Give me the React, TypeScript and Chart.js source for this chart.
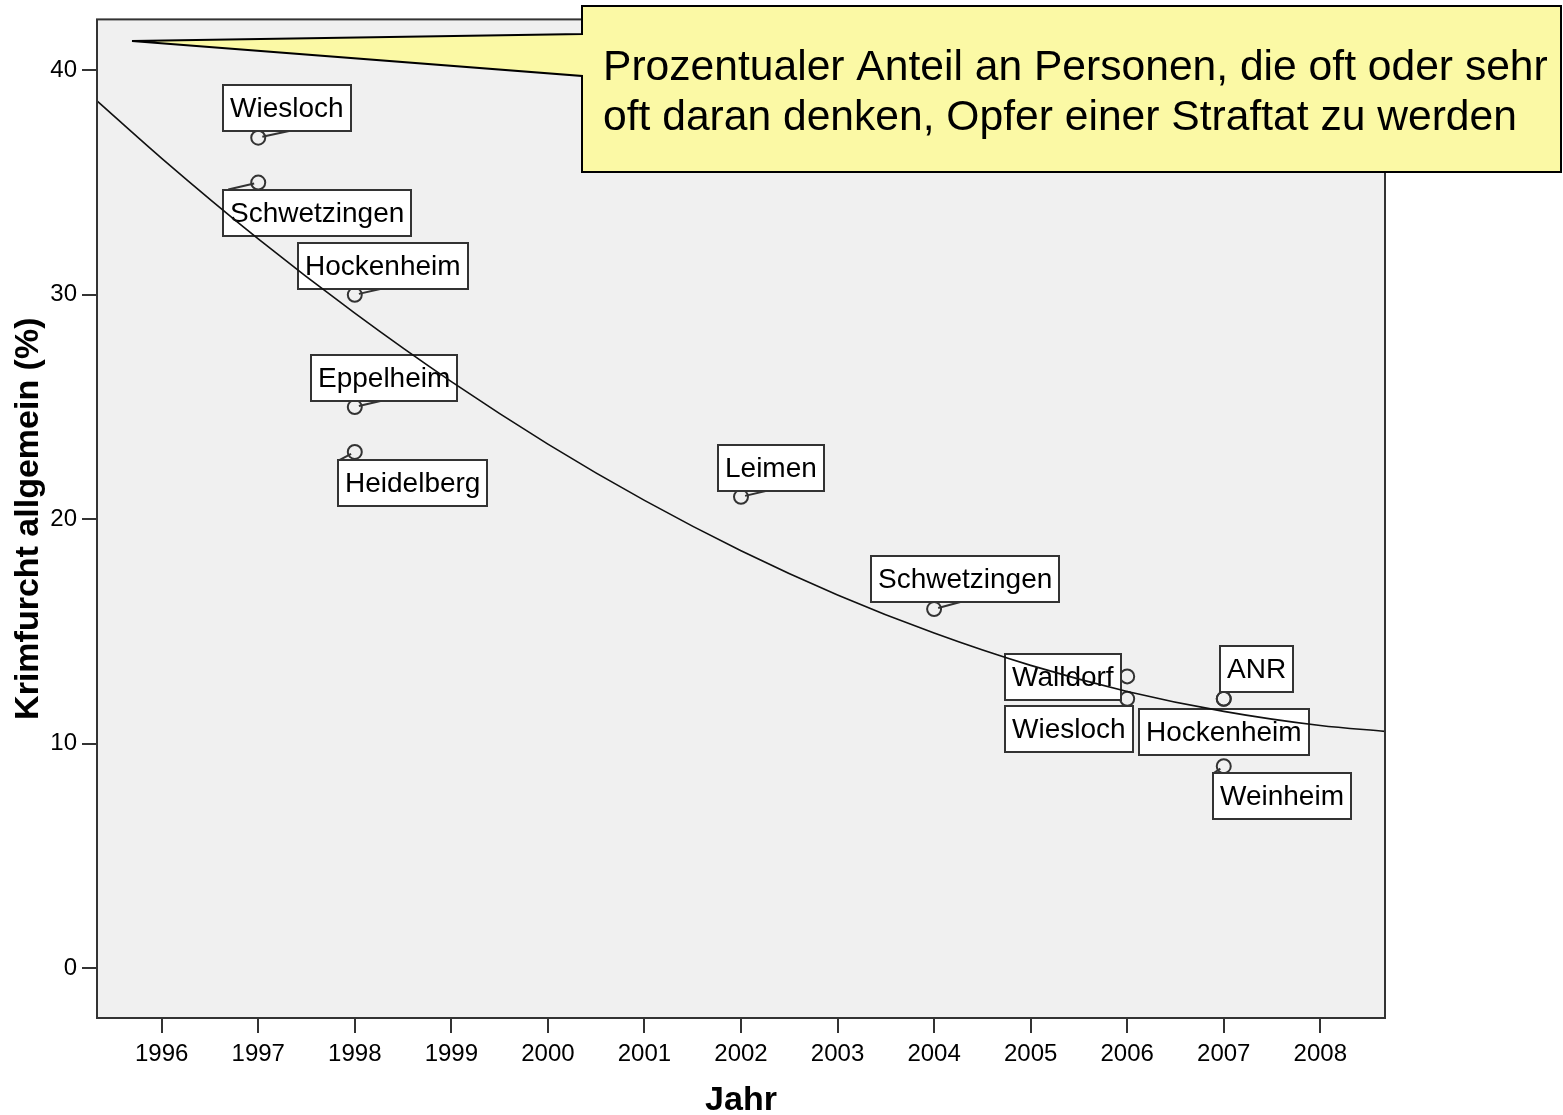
import React, { useEffect, useRef } from 'react';
import { Chart, registerables } from 'chart.js';

Chart.register(...registerables);

// ---- data ----
const cities = ['Wiesloch', 'Schwetzingen', 'Hockenheim', 'Eppelheim', 'Heidelberg', 'Leimen', 'Schwetzingen', 'Walldorf', 'Wiesloch', 'ANR', 'Hockenheim', 'Weinheim'];
const years = [1997, 1997, 1998, 1998, 1998, 2002, 2004, 2006, 2006, 2007, 2007, 2007];
const values = [37, 35, 30, 25, 23, 21, 16, 13, 12, 12, 12, 9];

// fitted (quadratic) curve, values matching the picture
const fitYears = [1995.33, 1996, 1997, 1998, 1999, 2000, 2001, 2002, 2003, 2004, 2005, 2006, 2007, 2008, 2008.67];
const fitValues = [38.64, 36.08, 32.49, 29.18, 26.13, 23.35, 20.84, 18.6, 16.63, 14.93, 13.49, 12.33, 11.44, 10.81, 10.55];

const xTickValues = [1996, 1997, 1998, 1999, 2000, 2001, 2002, 2003, 2004, 2005, 2006, 2007, 2008];
const yTickValues = [0, 10, 20, 30, 40];
const xRange = [1995.33, 2008.67];
const yRange = [-2.22, 42.27];

const xTitle = 'Jahr';
const yTitle = 'Krimfurcht allgemein (%)';
const calloutLines = ['Prozentualer Anteil an Personen, die oft oder sehr', 'oft daran denken, Opfer einer Straftat zu werden'];

// ---- layout / style (not data) ----
const FONT = '"Liberation Sans", Arial, Helvetica, sans-serif';
const W = 1563;
const H = 1115;

// label box offsets relative to the point pixel (dx = box left, dy = box top), connector target (cx, cy)
type LabelPos = { dx: number; dy: number; cx?: number; cy?: number };
const labelLayout: LabelPos[] = [
  { dx: -35, dy: -53, cx: 32, cy: -7 },
  { dx: -35, dy: 7, cx: -30, cy: 7 },
  { dx: -57, dy: -52, cx: 31, cy: -7 },
  { dx: -44, dy: -52, cx: 30, cy: -7 },
  { dx: -17, dy: 8, cx: -15, cy: 8 },
  { dx: -23, dy: -52, cx: 30, cy: -7 },
  { dx: -63, dy: -53, cx: 30, cy: -8 },
  { dx: -122, dy: -22 },
  { dx: -122, dy: 7 },
  { dx: -4, dy: -53 },
  { dx: -85, dy: 10 },
  { dx: -11, dy: 7, cx: -10, cy: 7 },
];

const callout = { left: 582, top: 6, right: 1561, bottom: 172, baseTop: 34, baseBottom: 76, tipX: 132, tipY: 41, textX: 603, line1Y: 68, lineGap: 50 };

const decorPlugin = {
  id: 'decor',
  beforeDraw(chart: any) {
    const { ctx, chartArea: a } = chart;
    ctx.save();
    ctx.fillStyle = '#ffffff';
    ctx.fillRect(0, 0, chart.width, chart.height);
    ctx.fillStyle = '#f0f0f0';
    ctx.fillRect(a.left, a.top, a.right - a.left, a.bottom - a.top);
    ctx.restore();
  },
  afterDatasetDraw(chart: any, args: any) {
    if (args.index !== 0) return;
    const { ctx } = chart;
    const xs = chart.scales.x;
    const ys = chart.scales.y;
    ctx.save();
    ctx.font = `28px ${FONT}`;
    cities.forEach((name, i) => {
      const px = xs.getPixelForValue(years[i]);
      const py = ys.getPixelForValue(values[i]);
      const L = labelLayout[i];
      const tw = ctx.measureText(name).width;
      const bw = Math.round(tw + 14);
      const bh = 46;
      const bx = Math.round(px + L.dx);
      const by = Math.round(py + L.dy);
      if (L.cx !== undefined && L.cy !== undefined) {
        const tx = px + L.cx;
        const ty = py + L.cy;
        const d = Math.hypot(tx - px, ty - py);
        const r = 7;
        ctx.beginPath();
        ctx.moveTo(px + ((tx - px) / d) * r * 0.6, py + ((ty - py) / d) * r * 0.6);
        ctx.lineTo(tx, ty);
        ctx.strokeStyle = '#333';
        ctx.lineWidth = 2;
        ctx.stroke();
      }
      ctx.fillStyle = '#ffffff';
      ctx.fillRect(bx, by, bw, bh);
      ctx.strokeStyle = '#333';
      ctx.lineWidth = 2;
      ctx.strokeRect(bx, by, bw, bh);
      ctx.fillStyle = '#000';
      ctx.textAlign = 'left';
      ctx.textBaseline = 'middle';
      ctx.fillText(name, bx + 7, by + bh / 2 + 1);
    });
    ctx.restore();
  },
  afterDraw(chart: any) {
    const { ctx, chartArea: a } = chart;
    ctx.save();
    // frame
    ctx.strokeStyle = '#333';
    ctx.lineWidth = 2;
    ctx.strokeRect(a.left, a.top, a.right - a.left, a.bottom - a.top);
    // callout bubble
    const c = callout;
    ctx.beginPath();
    ctx.moveTo(c.left, c.top);
    ctx.lineTo(c.right, c.top);
    ctx.lineTo(c.right, c.bottom);
    ctx.lineTo(c.left, c.bottom);
    ctx.lineTo(c.left, c.baseBottom);
    ctx.lineTo(c.tipX, c.tipY);
    ctx.lineTo(c.left, c.baseTop);
    ctx.closePath();
    ctx.fillStyle = '#fbf9a5';
    ctx.fill();
    ctx.strokeStyle = '#000';
    ctx.lineWidth = 2;
    ctx.stroke();
    ctx.fillStyle = '#000';
    ctx.font = `42.6px ${FONT}`;
    ctx.textAlign = 'left';
    ctx.textBaseline = 'middle';
    calloutLines.forEach((t, i) => ctx.fillText(t, c.textX, c.line1Y + i * c.lineGap));
    ctx.restore();
  },
};

export default function App() {
  const ref = useRef<HTMLCanvasElement | null>(null);
  useEffect(() => {
    if (!ref.current) return;
    const chart = new Chart(ref.current, {
      type: 'scatter',
      data: {
        datasets: [
          {
            type: 'scatter',
            label: 'Städte',
            data: years.map((x, i) => ({ x, y: values[i] })),
            pointRadius: 7,
            pointHoverRadius: 7,
            pointBorderWidth: 2,
            pointBorderColor: '#333',
            pointBackgroundColor: 'rgba(0,0,0,0)',
            showLine: false,
            order: 2,
          } as any,
          {
            type: 'line',
            label: 'Anpassung',
            data: fitYears.map((x, i) => ({ x, y: fitValues[i] })),
            borderColor: '#111',
            borderWidth: 1.6,
            pointRadius: 0,
            fill: false,
            cubicInterpolationMode: 'monotone',
            order: 1,
          } as any,
        ],
      },
      options: {
        responsive: false,
        animation: false,
        devicePixelRatio: 1,
        layout: { padding: { left: 0, top: 17, right: 178, bottom: 0 } },
        plugins: { legend: { display: false }, tooltip: { enabled: false } },
        scales: {
          x: {
            type: 'linear',
            position: 'bottom',
            min: xRange[0],
            max: xRange[1],
            afterBuildTicks: (s: any) => {
              s.ticks = xTickValues.map((v) => ({ value: v }));
            },
            afterFit: (s: any) => {
              s.height = 97;
            },
            ticks: {
              callback: (v: any) => String(v),
              font: { size: 24, family: FONT },
              color: '#000',
              padding: 7,
              maxRotation: 0,
              autoSkip: false,
            },
            grid: { drawOnChartArea: false, drawTicks: true, tickLength: 15, color: '#333', lineWidth: 2 },
            border: { display: false },
            title: {
              display: true,
              text: xTitle,
              color: '#000',
              font: { size: 34, weight: 'bold', family: FONT, lineHeight: 1 },
              padding: { top: 0, bottom: -3 },
            },
          },
          y: {
            type: 'linear',
            position: 'left',
            min: yRange[0],
            max: yRange[1],
            afterBuildTicks: (s: any) => {
              s.ticks = yTickValues.map((v) => ({ value: v }));
            },
            afterFit: (s: any) => {
              s.width = 97;
            },
            ticks: {
              callback: (v: any) => String(v),
              font: { size: 24, family: FONT },
              color: '#000',
              padding: 5,
              autoSkip: false,
            },
            grid: { drawOnChartArea: false, drawTicks: true, tickLength: 15, color: '#333', lineWidth: 2 },
            border: { display: false },
            title: {
              display: true,
              text: yTitle,
              color: '#000',
              font: { size: 34, weight: 'bold', family: FONT, lineHeight: 1 },
              padding: { top: 12, bottom: 0 },
            },
          },
        },
      } as any,
      plugins: [decorPlugin as any],
    });
    return () => chart.destroy();
  }, []);
  return (
    <div style={{ position: 'absolute', left: 0, top: 0, width: W, height: H }}>
      <canvas ref={ref} width={W} height={H} style={{ display: 'block', width: W, height: H }} />
    </div>
  );
}
